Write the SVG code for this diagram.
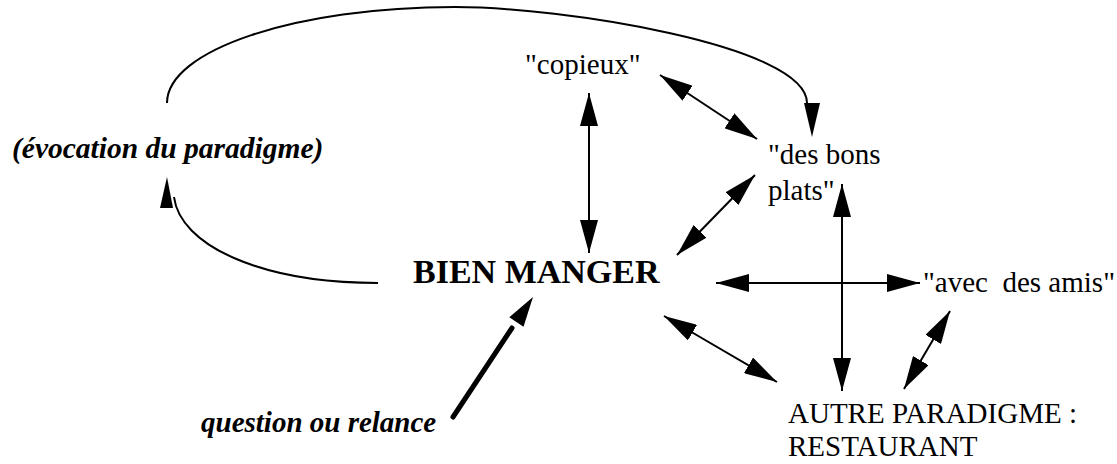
<svg xmlns="http://www.w3.org/2000/svg" width="1117" height="464" viewBox="0 0 1117 464">
<style>
.t{font-family:"Liberation Serif","Times New Roman",serif;font-size:29px;fill:#000;white-space:pre}
.b{font-weight:bold;font-size:34px}
.bi{font-weight:bold;font-style:italic}
.ln{stroke:#000;stroke-width:2;fill:none}
.thick{stroke:#000;stroke-width:5;fill:none;stroke-linecap:round}
.arr{stroke:#000;stroke-width:2;fill:none;marker-start:url(#ah);marker-end:url(#ah)}
.head{fill:#000;stroke:none}
</style>
<defs>
<marker id="ah" markerUnits="userSpaceOnUse" viewBox="0 0 33 18" markerWidth="33" markerHeight="18" refX="33" refY="9" orient="auto-start-reverse">
<path d="M0,0 L33,9 L0,18 z" fill="#000"/>
</marker>
</defs>
<rect width="1117" height="464" fill="#fff"/>
<g id="connectors">
<path class="ln" d="M167,103 C167,50 296,7 455,7 C560,7 807,45 807,103"/>
<polygon class="head" points="804,103 820,103 812,137"/>
<path class="ln" d="M174,197 C180,245 260,283 378,283"/>
<polygon class="head" points="160,208 173,208 167,177"/>
<line class="arr" x1="589" y1="93" x2="589" y2="253"/>
<line class="arr" x1="660" y1="75" x2="757" y2="139"/>
<line class="arr" x1="755" y1="175" x2="677" y2="255"/>
<line class="arr" x1="716" y1="283" x2="920" y2="283"/>
<line class="arr" x1="842" y1="184" x2="842" y2="391"/>
<line class="arr" x1="664" y1="316" x2="777" y2="382"/>
<line class="arr" x1="950" y1="311" x2="904" y2="389"/>
<line class="thick" x1="453" y1="417" x2="512" y2="328"/>
<polygon class="head" points="533,297 523.5,326.7 509.3,317.3"/>
</g>
<g id="evocation"><text class="t bi" x="12" y="158" style="font-size:29.5px">(évocation du paradigme)</text></g>
<g id="copieux"><text class="t" x="525" y="74">"copieux"</text></g>
<g id="bons-plats"><text class="t" x="768" y="164">"des bons</text><text class="t" x="768" y="200">plats"</text></g>
<g id="bien-manger"><text class="t b" x="413" y="283">BIEN MANGER</text></g>
<g id="amis"><text class="t" x="923" y="292">"avec  des amis"</text></g>
<g id="restaurant"><text class="t" x="788" y="423">AUTRE PARADIGME :</text><text class="t" x="788" y="456">RESTAURANT</text></g>
<g id="question"><text class="t bi" x="201" y="432">question ou relance</text></g>
</svg>
